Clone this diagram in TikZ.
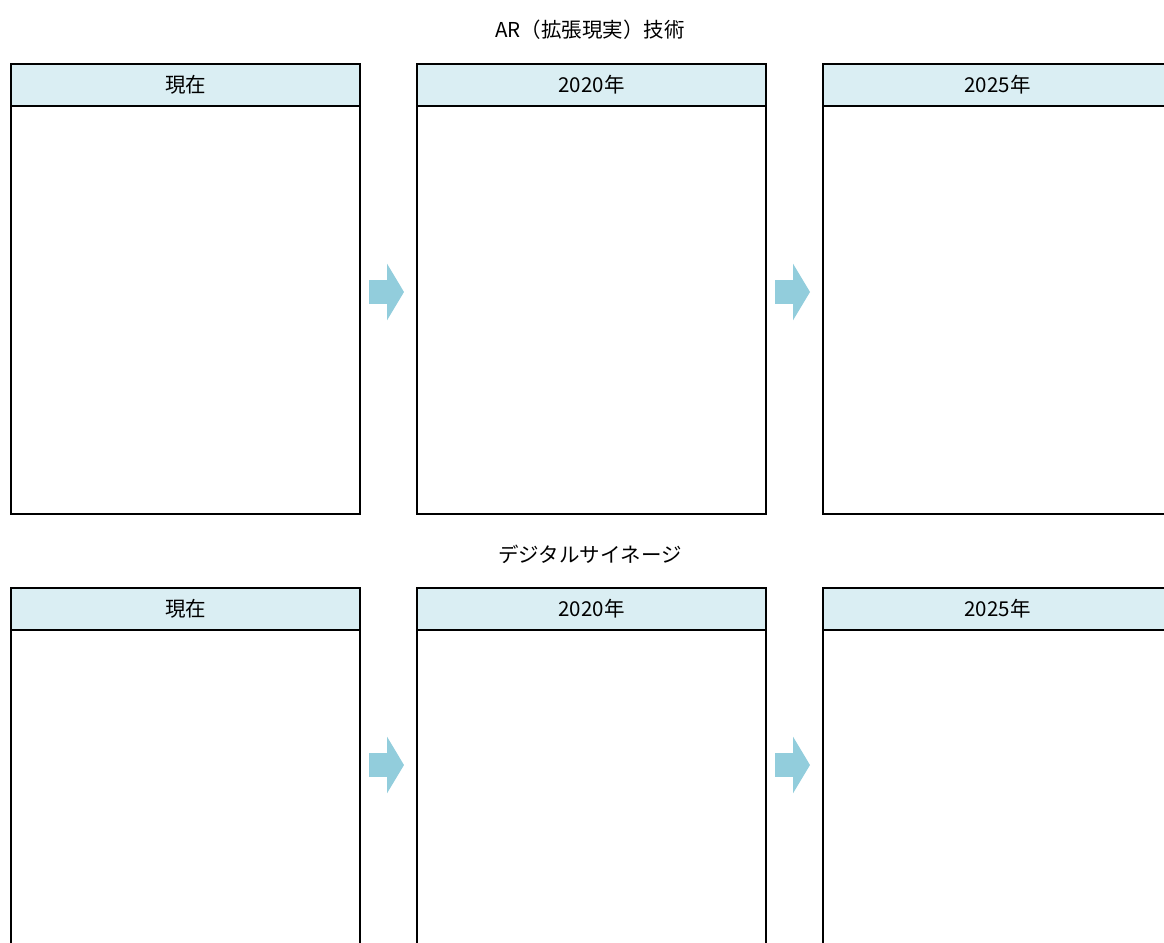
\documentclass[tikz,border=0pt]{standalone}
\usepackage{fontspec}
\setmainfont{Noto Sans CJK JP}
\usepackage{tikz}
\usetikzlibrary{positioning, arrows.meta}
\definecolor{headfill}{HTML}{DAEEF3}
\definecolor{stepblue}{HTML}{92CDDC}

\begin{document}
\begin{tikzpicture}[
        x=1pt, y=-1pt,
        node distance=0pt and 57pt,
        every node/.style={font=\fontsize{20.5}{24}\selectfont},
        head/.style={rectangle, draw=black, line width=2.2pt, fill=headfill, minimum width=349pt, minimum height=42pt, inner sep=0pt, outer sep=0pt},
        panel/.style={rectangle, draw=black, line width=2.2pt, minimum width=349pt, minimum height=408pt, inner sep=0pt, outer sep=0pt},
        stepper/.style={draw=stepblue, line width=24pt, -{Triangle[length=17pt, width=56pt]}}
        ]
        \useasboundingbox (0,0) rectangle (1164,942);
        \clip (0,0) rectangle (1164,942);

        % AR
        \node (titleA) at (590,30) {AR（拡張現実）技術};
        \node[head, anchor=north west] (hA1) at (11,64) {現在};
        \node[head, right=of hA1] (hA2) {2020年};
        \node[head, right=of hA2] (hA3) {2025年};
        \node[panel, below=of hA1] (pA1) {};
        \node[panel, below=of hA2] (pA2) {};
        \node[panel, below=of hA3] (pA3) {};

        \draw[stepper] ([shift={(9pt,18pt)}]pA1.east) -- ([shift={(-13pt,18pt)}]pA2.west);
        \draw[stepper] ([shift={(9pt,18pt)}]pA2.east) -- ([shift={(-13pt,18pt)}]pA3.west);

        % signage
        \node (titleB) at (590,554) {デジタルサイネージ};
        \node[head, anchor=north west] (hB1) at (11,588) {現在};
        \node[head, right=of hB1] (hB2) {2020年};
        \node[head, right=of hB2] (hB3) {2025年};
        \node[panel, below=of hB1] (pB1) {};
        \node[panel, below=of hB2] (pB2) {};
        \node[panel, below=of hB3] (pB3) {};

        \draw[stepper] ([shift={(9pt,69pt)}]pB1.east) -- ([shift={(-13pt,69pt)}]pB2.west);
        \draw[stepper] ([shift={(9pt,69pt)}]pB2.east) -- ([shift={(-13pt,69pt)}]pB3.west);
    \end{tikzpicture}
\end{document}
